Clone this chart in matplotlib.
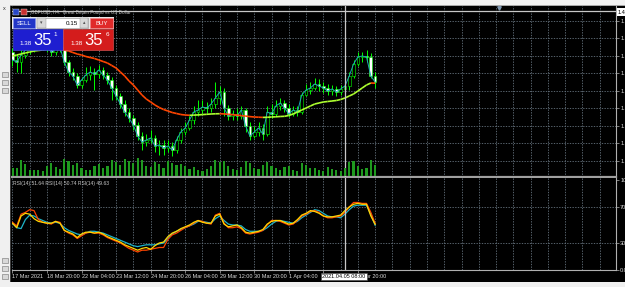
import matplotlib.pyplot as plt
import numpy as np
from matplotlib.collections import LineCollection
from matplotlib.patches import Rectangle

plt.rcParams['font.family'] = ['Liberation Sans', 'DejaVu Sans']

# GBPUSD H4 - velas
close = [1.3912, 1.3908, 1.3922, 1.3932, 1.3936, 1.3940, 1.3944, 1.3942, 1.3938, 1.3928,
         1.3936, 1.3938, 1.3908, 1.3888, 1.3880, 1.3862, 1.3872, 1.3882, 1.3888, 1.3884,
         1.3892, 1.3882, 1.3872, 1.3856, 1.3840, 1.3824, 1.3808, 1.3796, 1.3782, 1.3760,
         1.3748, 1.3752, 1.3756, 1.3740, 1.3742, 1.3736, 1.3740, 1.3732, 1.3752, 1.3768,
         1.3776, 1.3792, 1.3808, 1.3812, 1.3818, 1.3816, 1.3824, 1.3836, 1.3848, 1.3816,
         1.3800, 1.3804, 1.3800, 1.3812, 1.3780, 1.3760, 1.3768, 1.3776, 1.3764, 1.3808,
         1.3804, 1.3820, 1.3826, 1.3816, 1.3804, 1.3812, 1.3808, 1.3842, 1.3852, 1.3856,
         1.3864, 1.3860, 1.3856, 1.3850, 1.3854, 1.3848, 1.3854, 1.3860, 1.3880, 1.3904,
         1.3918, 1.3920, 1.3918, 1.3880, 1.3868]
first_open = 1.3928
high = [1.3936, 1.3924, 1.3932, 1.3940, 1.3946, 1.3952, 1.3952, 1.3950, 1.3948, 1.3942,
        1.3944, 1.3946, 1.3942, 1.3912, 1.3896, 1.3886, 1.3878, 1.3898, 1.3900, 1.3896,
        1.3902, 1.3898, 1.3888, 1.3878, 1.3862, 1.3846, 1.3832, 1.3816, 1.3802, 1.3788,
        1.3768, 1.3764, 1.3772, 1.3762, 1.3752, 1.3752, 1.3752, 1.3748, 1.3760, 1.3776,
        1.3788, 1.3800, 1.3820, 1.3832, 1.3832, 1.3828, 1.3836, 1.3868, 1.3860, 1.3856,
        1.3822, 1.3812, 1.3816, 1.3820, 1.3816, 1.3788, 1.3780, 1.3788, 1.3784, 1.3820,
        1.3824, 1.3832, 1.3836, 1.3832, 1.3824, 1.3820, 1.3820, 1.3848, 1.3864, 1.3868,
        1.3876, 1.3874, 1.3868, 1.3864, 1.3862, 1.3860, 1.3862, 1.3868, 1.3888, 1.3912,
        1.3928, 1.3928, 1.3932, 1.3926, 1.3888]
low = [1.3900, 1.3888, 1.3886, 1.3916, 1.3924, 1.3928, 1.3932, 1.3932, 1.3928, 1.3920,
       1.3922, 1.3928, 1.3902, 1.3880, 1.3872, 1.3856, 1.3856, 1.3868, 1.3872, 1.3852,
       1.3876, 1.3874, 1.3864, 1.3832, 1.3832, 1.3816, 1.3800, 1.3788, 1.3772, 1.3752,
       1.3732, 1.3740, 1.3746, 1.3728, 1.3722, 1.3722, 1.3728, 1.3720, 1.3726, 1.3746,
       1.3762, 1.3772, 1.3784, 1.3800, 1.3804, 1.3806, 1.3808, 1.3816, 1.3824, 1.3800,
       1.3792, 1.3792, 1.3792, 1.3794, 1.3768, 1.3752, 1.3756, 1.3760, 1.3752, 1.3760,
       1.3796, 1.3800, 1.3812, 1.3808, 1.3798, 1.3800, 1.3800, 1.3804, 1.3840, 1.3844,
       1.3852, 1.3850, 1.3846, 1.3842, 1.3842, 1.3840, 1.3842, 1.3848, 1.3852, 1.3876,
       1.3900, 1.3908, 1.3908, 1.3876, 1.3856]
media = [1.3920, 1.3922, 1.3924, 1.3926, 1.3928, 1.3930, 1.3931, 1.3932, 1.3933, 1.39332,
         1.39332, 1.3933, 1.3932, 1.3930, 1.3927, 1.3924, 1.3922, 1.3919, 1.3917, 1.3915,
         1.3912, 1.3909, 1.3906, 1.3901, 1.3896, 1.3888, 1.3880, 1.3870, 1.3862, 1.3852,
         1.3842, 1.3834, 1.3828, 1.3822, 1.3817, 1.3813, 1.3810, 1.3807, 1.3805, 1.3803,
         1.3802, 1.38014, 1.38018, 1.38022, 1.38028, 1.38034, 1.38040, 1.38044, 1.38046, 1.38042,
         1.38034, 1.38026, 1.38018, 1.38008, 1.37998, 1.37988, 1.37980, 1.37976, 1.37972, 1.37974,
         1.37980, 1.37984, 1.37990, 1.37994, 1.38010, 1.38040, 1.38080, 1.38120, 1.38160, 1.38200,
         1.38240, 1.38260, 1.38280, 1.38290, 1.38300, 1.38310, 1.38330, 1.38360, 1.38400, 1.38440,
         1.38500, 1.38560, 1.38620, 1.38660, 1.38656]
volumen = [5200, 4800, 9800, 7600, 4100, 3500, 3900, 3200, 6100, 8400,
           5600, 4300, 10500, 9200, 6800, 7900, 5300, 4100, 3600, 6200,
           7400, 4900, 6600, 9800, 8700, 7200, 10800, 9400, 8100, 11600,
           9900, 6300, 5400, 8800, 7600, 5200, 9600, 8200, 6900, 7800,
           6400, 4600, 5900, 3800, 3300, 4500, 6200, 10200, 8900, 9700,
           6100, 4200, 3600, 5500, 9400, 8300, 5100, 4400, 6700, 8900,
           6200, 4800, 4100, 5600, 6300, 3900, 3400, 8100, 6900, 5300,
           4800, 3900, 3100, 5600, 4200, 3500, 2900, 4900, 8800, 9300,
           6400, 4700, 5200, 9900, 7100]

# RSI(14) x3
rsi_rojo = [53, 49, 62, 64, 67, 66, 56, 53, 52, 51,
            54, 53, 44, 41, 39, 35, 38, 41, 42, 41,
            41, 39, 36, 34, 32, 30, 27, 24, 22, 20,
            22, 22, 23, 24, 25, 25, 34, 39, 41, 44,
            47, 49, 52, 55, 54, 52, 51, 61, 63, 52,
            47, 47, 48, 46, 41, 40, 41, 42, 44, 50,
            55, 55, 54, 52, 50, 51, 55, 60, 62, 65,
            66, 64, 60, 58, 58, 59, 60, 64, 70, 75,
            75, 74, 74, 64, 51.64]
rsi_amarillo = [52, 47, 60, 63, 62, 57, 54, 53, 52, 52,
                54, 52, 44, 42, 40, 36, 40, 42, 42, 41,
                42, 40, 37, 35, 33, 31, 28, 26, 24, 22,
                24, 25, 23, 27, 30, 31, 37, 41, 43, 46,
                48, 50, 53, 55, 53, 52, 52, 60, 62, 51,
                48, 49, 50, 47, 42, 41, 42, 43, 45, 51,
                54, 55, 55, 53, 51, 52, 56, 61, 63, 66,
                65, 63, 60, 59, 59, 60, 61, 66, 70, 73,
                74, 73, 73, 60, 50.74]
rsi_cian = [52, 47, 46, 56, 61, 60, 57, 55, 53, 52,
            53, 52, 47, 44, 42, 40, 39, 41, 43, 43,
            42, 41, 39, 37, 35, 33, 31, 29, 27, 26,
            27, 28, 28, 28, 29, 30, 35, 40, 43, 45,
            47, 49, 51, 54, 54, 53, 52, 57, 60, 55,
            51, 50, 50, 49, 45, 43, 43, 43, 44, 47,
            51, 54, 55, 54, 53, 52, 54, 58, 61, 64,
            67, 66, 63, 60, 59, 59, 58, 62, 67, 71,
            72, 72, 72, 62, 49.63]

etiquetas_tiempo = ["17 Mar 2021", "18 Mar 20:00", "22 Mar 04:00", "23 Mar 12:00", "24 Mar 20:00",
                    "26 Mar 04:00", "29 Mar 12:00", "30 Mar 20:00", "1 Apr 04:00", "2 Apr 12:00",
                    "5 Apr 20:00"]
niveles_precio = [1.3990, 1.3955, 1.3920, 1.3885, 1.3850, 1.3815, 1.3780, 1.3745, 1.3710]
niveles_rsi = [0, 30, 70, 100]
barra_cursor = 77

W, H = 625, 287
fig = plt.figure(figsize=(W / 100, H / 100), dpi=100, facecolor='black')


def caja(x0, y0, x1, y1):
    # pixeles -> fraccion de figura
    return [x0 / W, 1 - y1 / H, (x1 - x0) / W, (y1 - y0) / H]


def rect(x0, y0, x1, y1, color, ec='none', lw=0, z=5):
    fig.add_artist(Rectangle((x0 / W, 1 - y1 / H), (x1 - x0) / W, (y1 - y0) / H,
                             transform=fig.transFigure, facecolor=color, edgecolor=ec,
                             linewidth=lw, zorder=z))


def texto(x, y, s, **kw):
    fig.text(x / W, 1 - y / H, s, zorder=6, **kw)


grid_col = '#66737f'
grid_ls = (0, (1.6, 1.6))
xlim = (-0.1, -0.1 + 604 / 4.318)

# Panel principal
ax = fig.add_axes(caja(12, 6, 616, 177))
ax.set_facecolor('black')
ax.set_xlim(xlim)
ax.set_ylim(1.3678, 1.4020)

for g in range(0, 140, 4):
    ax.axvline(g, color=grid_col, lw=0.6, ls=grid_ls, zorder=0)
for p in niveles_precio:
    ax.axhline(p, color=grid_col, lw=0.6, ls=grid_ls, zorder=0)

n = len(close)
x = np.arange(n)
apertura = [first_open] + close[:-1]
for i in range(n):
    o, c = apertura[i], close[i]
    ax.vlines(i, min(low[i], o, c), max(high[i], o, c), color='#00ff00', lw=0.7, zorder=2)
    cuerpo = 'white' if c < o else 'black'
    ax.bar(i, max(abs(c - o), 0.00005), bottom=min(o, c), width=0.62, color=cuerpo,
           edgecolor='#00ff00', lw=0.4, zorder=3)

ax.plot(x, close, color='#1fa6b6', lw=0.7, zorder=4)

pts = np.column_stack([x, media])
segs = np.stack([pts[:-1], pts[1:]], axis=1)
cols = ['#adff2f' if b >= a else '#ff4500' for a, b in zip(media[:-1], media[1:])]
ax.add_collection(LineCollection(segs, colors=cols, linewidths=1.2, zorder=5))

# cursor
ax.axvline(barra_cursor, color='#c8c8c8', lw=0.9, zorder=6)
ax.axhline(1.4010, color='#c8c8c8', lw=0.9, zorder=6)

ax.yaxis.tick_right()
ax.set_yticks(niveles_precio)
ax.set_yticklabels([f'{p:.4f}' for p in niveles_precio])
ax.tick_params(axis='y', colors='#b0b0b0', labelcolor='#d8d8d8', labelsize=4, length=2, pad=1, width=0.5)
ax.tick_params(axis='x', bottom=False, labelbottom=False)
for s in ['top', 'left']:
    ax.spines[s].set_visible(False)
ax.spines['right'].set_color('#b0b0b0')
ax.spines['bottom'].set_color('#a0a0a0')
ax.spines['bottom'].set_linewidth(1.6)

# Volumenes
ax_vol = fig.add_axes(caja(12, 157, 616, 176))
ax_vol.set_facecolor('none')
ax_vol.set_xlim(xlim)
ax_vol.set_ylim(0, 12000)
ax_vol.bar(x, volumen, width=0.5, color='#1f9a1f')
ax_vol.axis('off')

# Panel RSI
ax_rsi = fig.add_axes(caja(12, 178, 616, 270))
ax_rsi.set_facecolor('black')
ax_rsi.set_xlim(xlim)
ax_rsi.set_ylim(0, 102.2)
for g in range(0, 140, 4):
    ax_rsi.axvline(g, color=grid_col, lw=0.6, ls=grid_ls, zorder=0)
for r in [30, 70]:
    ax_rsi.axhline(r, color=grid_col, lw=0.6, ls=grid_ls, zorder=0)
ax_rsi.plot(x, rsi_cian, color='#1fb4c8', lw=0.9)
ax_rsi.plot(x, rsi_rojo, color='#ff4500', lw=0.9)
ax_rsi.plot(x, rsi_amarillo, color='#ffd700', lw=0.9)
ax_rsi.axvline(barra_cursor, color='#c8c8c8', lw=0.9)

ax_rsi.yaxis.tick_right()
ax_rsi.set_yticks(niveles_rsi)
ax_rsi.set_yticklabels(['0.00', '30', '70', '100'])
ax_rsi.tick_params(axis='y', colors='#b0b0b0', labelcolor='#d8d8d8', labelsize=4, length=2, pad=1, width=0.5)
pos_etiquetas = list(range(0, 8 * len(etiquetas_tiempo), 8))
ax_rsi.set_xticks(pos_etiquetas)
ax_rsi.set_xticklabels(etiquetas_tiempo, ha='left')
ax_rsi.tick_params(axis='x', colors='#b0b0b0', labelcolor='#d8d8d8', labelsize=4, length=2, pad=1, width=0.5)
for s in ['top', 'left']:
    ax_rsi.spines[s].set_visible(False)
ax_rsi.spines['right'].set_color('#b0b0b0')
ax_rsi.spines['bottom'].set_color('#b0b0b0')

texto(13, 184, 'RSI(14) 51.64 RSI(14) 50.74 RSI(14) 49.63', fontsize=3.6, color='#c8c8c8', va='center')

# Marco de la ventana
rect(0, 0, W, 5, '#f2f2f2')
rect(0, 282, W, H, '#f0f0f0')
rect(0, 0, 10, H, '#f0f0f0')
rect(10, 5, 11, 282, '#404040')
rect(10, 5, W, 6, '#a8a8a8')
texto(4, 8, 'x', fontsize=4, color='#303030', ha='center', va='center')
for yy in [72, 80, 88, 258, 266, 274]:
    rect(2, yy, 8, yy + 5, '#d8d8d8', ec='#707070', lw=0.4)

# Titulo
rect(13, 9, 19, 15, '#2848c8', ec='#e0e0e0', lw=0.3)
rect(21, 9, 27, 15, '#c83030', ec='#e0e0e0', lw=0.3)
texto(31, 12, 'GBPUSD, H4:  Great Britain Pound vs US Dollar', fontsize=3.3, color='#c0c0c0', va='center')

# Panel de operaciones
rect(12, 17, 114, 29, '#e8e8e8')
rect(13, 18, 35, 28, '#2236c8', ec='#8090f0', lw=0.4)
texto(24, 23.3, 'SELL', fontsize=4.3, color='white', ha='center', va='center')
rect(37, 18, 88, 28, 'white', ec='#909090', lw=0.4)
rect(37, 18, 46, 28, '#d8d8d8', ec='#909090', lw=0.3)
rect(80, 18, 88, 28, '#d8d8d8', ec='#909090', lw=0.3)
texto(41.5, 23, '▾', fontsize=3.5, color='#505050', ha='center', va='center')
texto(84, 23, '▴', fontsize=3.5, color='#505050', ha='center', va='center')
texto(78, 23.3, '0.15', fontsize=4.5, color='black', ha='right', va='center')
rect(90, 18, 113, 28, '#e02a2a', ec='#f08080', lw=0.4)
texto(101.5, 23.3, 'BUY', fontsize=4.3, color='white', ha='center', va='center')

rect(13, 29, 63, 50, '#1e1ed0', ec='#4a50e8', lw=0.4)
rect(63, 29, 113, 50, '#d41c1c', ec='#e86060', lw=0.4)
texto(26, 43.5, '1.38', fontsize=4.5, color='white', ha='center', va='center')
texto(43, 40.5, '35', fontsize=12, color='white', ha='center', va='center')
texto(55.5, 35, '1', fontsize=4.5, color='white', ha='center', va='center')
texto(76.5, 43.5, '1.38', fontsize=4.5, color='white', ha='center', va='center')
texto(94, 40.5, '35', fontsize=12, color='white', ha='center', va='center')
texto(107.5, 35, '6', fontsize=4.5, color='white', ha='center', va='center')

# etiquetas del cursor
texto(344, 276.5, '2021.04.05 08:00', fontsize=4, color='black', ha='center', va='center',
      bbox=dict(boxstyle='square,pad=0.25', fc='white', ec='#404040', lw=0.4))
texto(618, 12, '1.4010', fontsize=4, color='black', ha='left', va='center',
      bbox=dict(boxstyle='square,pad=0.2', fc='white', ec='none'))
fig.add_artist(plt.Line2D([499 / W], [1 - 7.5 / H], marker='v', markersize=2.5, color='#8098b0',
                          transform=fig.transFigure, zorder=6))

fig.savefig('out.png', dpi=100, facecolor='black')
